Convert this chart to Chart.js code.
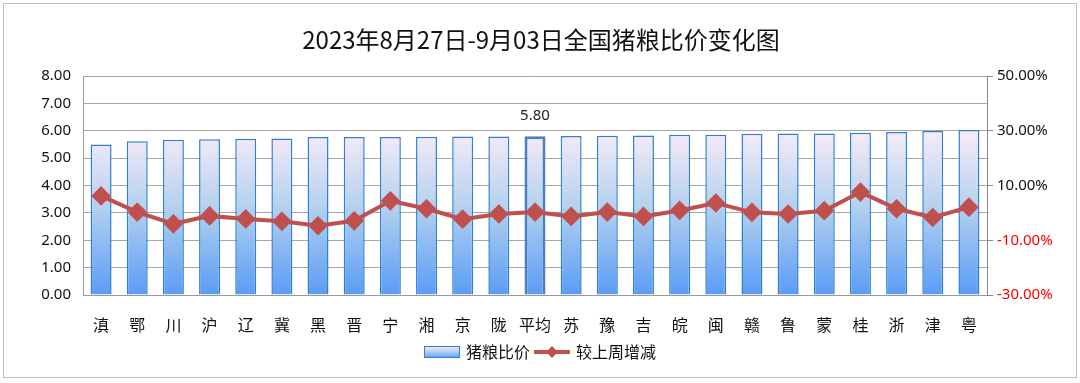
<!DOCTYPE html>
<html><head><meta charset="utf-8">
<script src="https://cdn.jsdelivr.net/npm/chart.js@4.4.0/dist/chart.umd.min.js"></script>
<style>html,body{margin:0;padding:0;background:#fff}#wrap{width:1080px;height:383px;position:relative}</style>
</head><body><div id="wrap"><canvas id="c" width="1080" height="383"></canvas></div>
<script>
const titleText = '2023年8月27日-9月03日全国猪粮比价变化图';
const categories = ['滇','鄂','川','沪','辽','冀','黑','晋','宁','湘','京','陇','平均','苏','豫','吉','皖','闽','赣','鲁','蒙','桂','浙','津','粤'];
const ratioValues = [5.50,5.62,5.67,5.69,5.71,5.72,5.77,5.77,5.77,5.78,5.79,5.79,5.80,5.81,5.82,5.83,5.85,5.85,5.89,5.90,5.90,5.93,5.95,5.99,6.03];
const weeklyChange = [6.2,0.3,-4.0,-1.1,-2.2,-3.1,-4.7,-2.9,4.4,1.5,-2.3,-0.4,0.3,-1.3,0.3,-1.3,0.9,3.6,0.2,-0.4,0.8,7.6,1.5,-1.7,2.1];
const seriesNames = ['猪粮比价','较上周增减'];
const leftAxis = {min:0, max:8, step:1};
const rightAxis = {min:-30, max:50, step:20};
const labeledCategory = '平均';

const LINE_RED = '#c0504d';
const BAR_BORDER = '#2f80d2';
const numFont = {family:'"Noto Sans", "DejaVu Sans", sans-serif', size:15};
const cjkFont = '"Noto Sans CJK SC", "Noto Sans", sans-serif';

function barGradient(ctx, top, bottom){
  const g = ctx.createLinearGradient(0, top, 0, bottom);
  g.addColorStop(0, '#f8ebf8');
  g.addColorStop(0.45, '#b6d2ef');
  g.addColorStop(1, '#5a9cf5');
  return g;
}

const deco = {
  id:'deco',
  beforeDraw(chart){
    const c = chart.ctx;
    c.save();
    c.fillStyle = '#fff';
    c.fillRect(0,0,chart.width,chart.height);
    c.strokeStyle = '#bdbdbd';
    c.lineWidth = 1;
    c.strokeRect(3.5,3.5,1073,374);
    c.restore();
  },
  afterDraw(chart){
    const c = chart.ctx;
    c.save();
    // title
    c.fillStyle = '#111';
    c.font = '24px ' + cjkFont;
    c.textAlign = 'center';
    c.textBaseline = 'middle';
    c.fillText(titleText, 541, 40);
    // data label on the bar dataset
    const idx = categories.indexOf(labeledCategory);
    const el = chart.getDatasetMeta(1).data[idx];
    c.font = '15px "Noto Sans", sans-serif';
    c.fillStyle = '#222';
    c.fillText(ratioValues[idx].toFixed(2), el.x, el.y - 20);
    // legend
    c.font = '16px ' + cjkFont;
    const w1 = c.measureText(seriesNames[0]).width;
    const w2 = c.measureText(seriesNames[1]).width;
    const total = 36 + 6 + w1 + 4 + 36 + 6 + w2;
    let x = 540 - total/2;
    const y = 352;
    c.fillStyle = barGradient(c, y-6, y+6);
    c.fillRect(x, y-6, 36, 12);
    c.strokeStyle = BAR_BORDER; c.lineWidth = 1;
    c.strokeRect(x+0.5, y-5.5, 35, 11);
    x += 42;
    c.fillStyle = '#111'; c.textAlign = 'left';
    c.fillText(seriesNames[0], x, y);
    x += w1 + 4;
    c.strokeStyle = LINE_RED; c.lineWidth = 4;
    c.beginPath(); c.moveTo(x, y); c.lineTo(x+36, y); c.stroke();
    c.fillStyle = LINE_RED;
    c.beginPath(); c.moveTo(x+18, y-6); c.lineTo(x+24, y); c.lineTo(x+18, y+6); c.lineTo(x+12, y); c.closePath(); c.fill();
    x += 42;
    c.fillStyle = '#111';
    c.fillText(seriesNames[1], x, y);
    c.restore();
  }
};

new Chart(document.getElementById('c'), {
  data: {
    labels: categories,
    datasets: [
      {
        type:'line', label: seriesNames[1], data: weeklyChange, yAxisID:'y1', order:0,
        borderColor: LINE_RED, backgroundColor: LINE_RED, borderWidth:4, tension:0,
        pointStyle:'rectRot', pointRadius:7, pointHoverRadius:7, pointBackgroundColor: LINE_RED, pointBorderColor: LINE_RED
      },
      {
        type:'bar', label: seriesNames[0], data: ratioValues, yAxisID:'y', order:1,
        backgroundColor: (ctx) => {
          const ca = ctx.chart.chartArea;
          if(!ca) return '#9cc3ee';
          const ys = ctx.chart.scales.y;
          return barGradient(ctx.chart.ctx, ys.getPixelForValue(6), ys.getPixelForValue(0));
        },
        borderColor: categories.map(c => c === labeledCategory ? '#4a7fbf' : BAR_BORDER),
        borderWidth: categories.map(c => c === labeledCategory ? 3 : 1.5),
        barPercentage:0.58, categoryPercentage:1
      }
    ]
  },
  options: {
    responsive:false, animation:false, devicePixelRatio:1,
    layout:{padding:{top:76, bottom:0, left:0, right:0}},
    plugins:{legend:{display:false}, title:{display:false}, tooltip:{enabled:false}},
    scales:{
      x:{
        grid:{display:false},
        border:{display:true, color:'#9a9a9a'},
        ticks:{font:{family:cjkFont, size:16}, color:'#111', padding:12, maxRotation:0, autoSkip:false},
        afterFit(s){ s.height = 88; s.paddingLeft = 0; s.paddingRight = 0; }
      },
      y:{
        position:'left', min:leftAxis.min, max:leftAxis.max,
        ticks:{stepSize:leftAxis.step, font:numFont, color:'#111', padding:12, callback:v=>Number(v).toFixed(2)},
        grid:{color:'#a6a6a6', lineWidth:1, drawTicks:false},
        border:{display:true, color:'#9a9a9a'},
        afterFit(s){ s.width = 83; s.paddingTop = 0; s.paddingBottom = 0; }
      },
      y1:{
        position:'right', min:rightAxis.min, max:rightAxis.max,
        ticks:{stepSize:rightAxis.step, font:numFont, padding:4,
          color:(ctx)=> ctx.tick.value < 0 ? '#ff0000' : '#111',
          callback:v=>Number(v).toFixed(2)+'%'},
        grid:{drawOnChartArea:false, drawTicks:true, tickLength:6, color:'#8a8a8a'},
        border:{display:true, color:'#8a8a8a'},
        afterFit(s){ s.width = 93; s.paddingTop = 0; s.paddingBottom = 0; }
      }
    }
  },
  plugins:[deco]
});
</script></body></html>
